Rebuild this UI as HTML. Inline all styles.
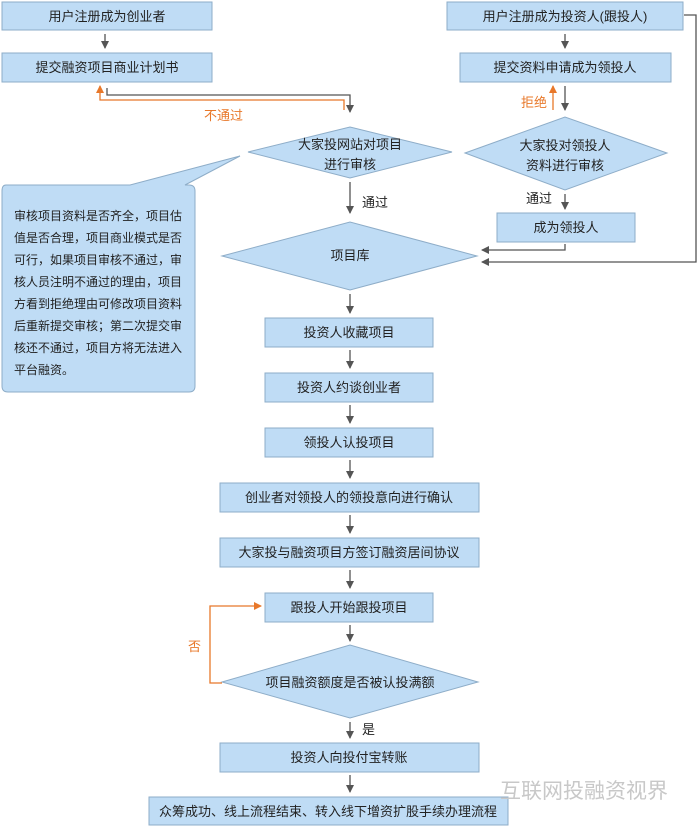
<!DOCTYPE html>
<html><head><meta charset="utf-8"><style>
body{margin:0;background:#fff}
svg text{font-family:"Liberation Sans","Noto Sans CJK SC",sans-serif;font-size:13px;fill:#222}
</style></head><body>
<svg width="700" height="826" viewBox="0 0 700 826" xmlns="http://www.w3.org/2000/svg">
<defs>
<marker id="g" markerWidth="8" markerHeight="8" refX="7" refY="4" orient="auto" markerUnits="userSpaceOnUse"><path d="M0,0L8,4L0,8z" fill="#555"/></marker>
<marker id="o" markerWidth="8" markerHeight="8" refX="7" refY="4" orient="auto" markerUnits="userSpaceOnUse"><path d="M0,0L8,4L0,8z" fill="#e8782a"/></marker>
</defs>
<g fill="#bfdcf5" stroke="#8eadc8" stroke-width="1">
<rect x="2" y="2" width="210" height="28"/>
<rect x="2" y="53" width="210" height="29"/>
<rect x="447" y="2" width="236" height="28"/>
<rect x="460" y="53" width="211" height="29"/>
<polygon points="248,152 350,127 452,152 350,178"/>
<polygon points="465,153 565,117 667,153 565,190"/>
<rect x="497" y="213" width="138" height="29"/>
<polygon points="222,256 350,222 477,256 350,290"/>
<rect x="265" y="318" width="168" height="29"/>
<rect x="265" y="373" width="168" height="29"/>
<rect x="265" y="428" width="168" height="29"/>
<rect x="220" y="483" width="259" height="29"/>
<rect x="220" y="538" width="259" height="29"/>
<rect x="265" y="593" width="168" height="29"/>
<polygon points="222,682 350,645 478,682 350,718"/>
<rect x="220" y="743" width="259" height="29"/>
<rect x="149" y="797" width="359" height="28"/>
<path d="M6,185 H130 L240,156 L185,185 H189 Q195,185 195,191 V386 Q195,392 189,392 H8 Q2,392 2,386 V191 Q2,185 6,185z"/>
</g>
<g stroke="#555" stroke-width="1.3" fill="none">
<line x1="105" y1="34" x2="105" y2="48" marker-end="url(#g)"/>
<line x1="565" y1="34" x2="565" y2="48" marker-end="url(#g)"/>
<polyline points="107,88 107,95 350,95 350,112" marker-end="url(#g)"/>
<line x1="565" y1="86" x2="565" y2="110" marker-end="url(#g)"/>
<line x1="350" y1="182" x2="350" y2="213" marker-end="url(#g)"/>
<line x1="565" y1="194" x2="565" y2="209" marker-end="url(#g)"/>
<polyline points="565,244 565,250 482,250" marker-end="url(#g)"/>
<polyline points="684,15 696,15 696,262 482,262" marker-end="url(#g)"/>
<line x1="350" y1="294" x2="350" y2="313" marker-end="url(#g)"/>
<line x1="350" y1="350" x2="350" y2="368" marker-end="url(#g)"/>
<line x1="350" y1="405" x2="350" y2="423" marker-end="url(#g)"/>
<line x1="350" y1="460" x2="350" y2="478" marker-end="url(#g)"/>
<line x1="350" y1="515" x2="350" y2="533" marker-end="url(#g)"/>
<line x1="350" y1="570" x2="350" y2="588" marker-end="url(#g)"/>
<line x1="350" y1="625" x2="350" y2="641" marker-end="url(#g)"/>
<line x1="350" y1="722" x2="350" y2="738" marker-end="url(#g)"/>
<line x1="350" y1="775" x2="350" y2="792" marker-end="url(#g)"/>
</g>
<g stroke="#e8782a" stroke-width="1.3" fill="none">
<polyline points="344,110 344,100 100,100 100,86" marker-end="url(#o)"/>
<line x1="553" y1="110" x2="553" y2="86" marker-end="url(#o)"/>
<polyline points="222,683 210,683 210,606 261,606" marker-end="url(#o)"/>
</g>
<g text-anchor="middle">
<text x="107" y="21">用户注册成为创业者</text>
<text x="107" y="72">提交融资项目商业计划书</text>
<text x="565" y="21">用户注册成为投资人(跟投人)</text>
<text x="565" y="72">提交资料申请成为领投人</text>
<text x="350" y="149">大家投网站对项目</text>
<text x="350" y="169">进行审核</text>
<text x="565" y="150">大家投对领投人</text>
<text x="565" y="170">资料进行审核</text>
<text x="566" y="232">成为领投人</text>
<text x="350" y="260">项目库</text>
<text x="349" y="337">投资人收藏项目</text>
<text x="349" y="392">投资人约谈创业者</text>
<text x="349" y="447">领投人认投项目</text>
<text x="349" y="502">创业者对领投人的领投意向进行确认</text>
<text x="349" y="557">大家投与融资项目方签订融资居间协议</text>
<text x="349" y="612">跟投人开始跟投项目</text>
<text x="350" y="687">项目融资额度是否被认投满额</text>
<text x="349" y="762">投资人向投付宝转账</text>
<text x="328" y="816">众筹成功、线上流程结束、转入线下增资扩股手续办理流程</text>
</g>
<text x="204" y="120" style="fill:#e8782a">不通过</text>
<text x="521" y="107" style="fill:#e8782a">拒绝</text>
<text x="188" y="651" style="fill:#e8782a">否</text>
<text x="362" y="207">通过</text>
<text x="526" y="203">通过</text>
<text x="362" y="734">是</text>
<g style="font-size:12px">
<text x="14" y="220" style="font-size:12px">审核项目资料是否齐全，项目估</text>
<text x="14" y="242" style="font-size:12px">值是否合理，项目商业模式是否</text>
<text x="14" y="264" style="font-size:12px">可行，如果项目审核不通过，审</text>
<text x="14" y="286" style="font-size:12px">核人员注明不通过的理由，项目</text>
<text x="14" y="308" style="font-size:12px">方看到拒绝理由可修改项目资料</text>
<text x="14" y="330" style="font-size:12px">后重新提交审核；第二次提交审</text>
<text x="14" y="352" style="font-size:12px">核还不通过，项目方将无法进入</text>
<text x="14" y="374" style="font-size:12px">平台融资。</text>
</g>
<text x="500" y="798" style="font-size:21px;fill:#c8c8c8">互联网投融资视界</text>
</svg>
</body></html>
